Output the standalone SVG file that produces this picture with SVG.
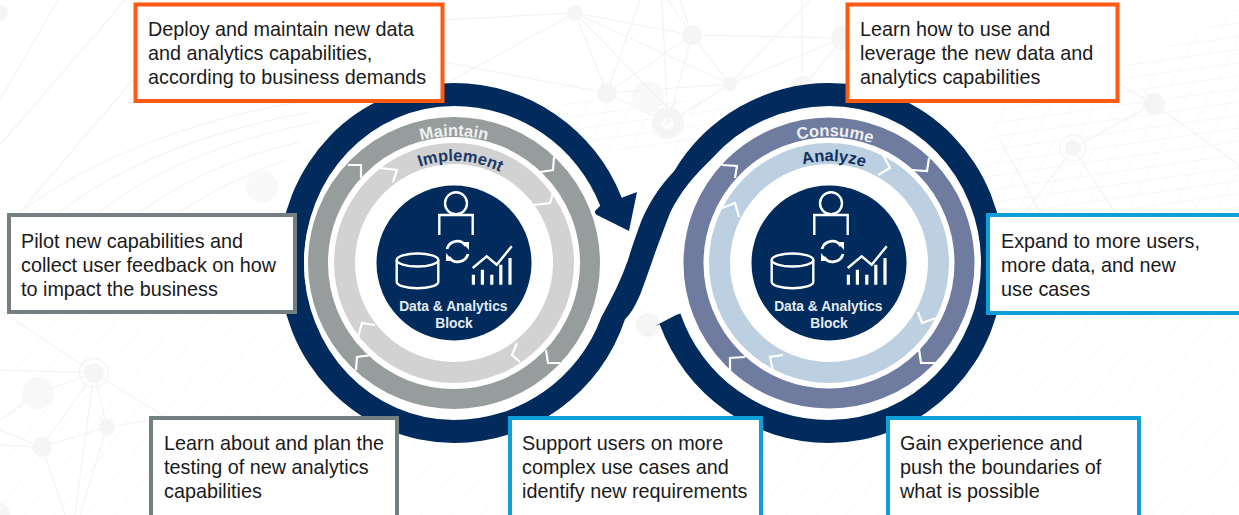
<svg xmlns="http://www.w3.org/2000/svg" xmlns:xlink="http://www.w3.org/1999/xlink" width="1239" height="515" viewBox="0 0 1239 515">
<style>
.box{fill:#fff;stroke-width:4}
.or{stroke:#fe5a12}.gr{stroke:#737f80}.bl{stroke:#0f9fd8}
.t{font-family:"Liberation Sans",Arial,sans-serif;font-size:19.8px;fill:#1a1a1a}
.bg{fill:none;stroke:#f3f3f3;stroke-width:1.2}
.nd{fill:#f5f5f5}
.tick{fill:none;stroke:#fff;stroke-width:2.2}
.ring{fill:none}
.rl{font-family:"Liberation Sans",Arial,sans-serif;font-weight:700;font-size:16.5px}
.ic{fill:none;stroke:#fff;stroke-width:2.4}
.bt{font-family:"Liberation Sans",Arial,sans-serif;font-weight:700;font-size:13.8px;fill:#e3eaf1;text-anchor:middle}
</style>
<defs>
<pattern id="hatch" width="24" height="24" patternUnits="userSpaceOnUse" patternTransform="rotate(38)"><line x1="0" y1="0" x2="0" y2="24" stroke="#f5f5f5" stroke-width="1.2"/></pattern>
<pattern id="mesh" width="24" height="13" patternUnits="userSpaceOnUse" patternTransform="rotate(-8) skewX(-35)"><path d="M0 0H24M0 0V13" fill="none" stroke="#f3f3f3" stroke-width="1.1"/></pattern>
<path id="arcL1" d="M327 263A127 127 0 0 1 581 263"/>
<path id="arcL2" d="M352 263A102 102 0 0 1 556 263"/>
<path id="arcR1" d="M702 263A127 127 0 0 1 956 263"/>
<path id="arcR2" d="M727 263A102 102 0 0 1 931 263"/>
<g id="core">
<circle r="77.5" fill="#002b5c"/>
<circle cx="2" cy="-59.7" r="11" class="ic"/>
<path class="ic" d="M-14.7-28V-48H18.7V-28"/>
<path class="ic" d="M-57.3-3V18.7C-57.3 22.5-48 25.2-36.5 25.2S-15.7 22.5-15.7 18.7V-3"/>
<ellipse cx="-36.5" cy="-3" rx="20.8" ry="6.5" class="ic"/>
<path class="ic" style="stroke-width:2.8" d="M-7-14A10.500 10.500 0 0 1 12-17M14-9A10.500 10.500 0 0 1-5-6"/>
<path d="M8-21H15V-13ZM-1-2H-8V-10Z" fill="#fff"/>
<path d="M17.800 11.700h3.200V21.700h-3.200zM26.800 6.700h3.200V21.700h-3.200zM36.200 11.700h3.200V21.700h-3.200zM45.200 1.700h3.200V21.700h-3.200zM54.400-5h3.200V21.700h-3.200z" fill="#fff"/>
<path class="ic" d="M18.700 5L32.700-6.700L42.700 1.700L57.700-16.700"/>
<text class="bt" x="-0.7" y="48.3">Data &amp; Analytics</text>
<text class="bt" x="0" y="65">Block</text>
</g>
</defs>
<rect width="1239" height="515" fill="#fff"/>
<g id="background">
<rect x="0" y="315" width="520" height="200" fill="url(#hatch)"/>
<rect x="640" y="300" width="599" height="215" fill="url(#hatch)"/>
<path d="M1119 66C1170 48 1210 25 1239 8V212H985V150L1000 102H1119Z" fill="url(#mesh)"/>
<path d="M560 100H860L850 150H590Z" fill="url(#mesh)"/>
<path class="bg" d="M20 212C90 160 190 120 300 102M60 212C120 165 210 130 310 112M100 212C150 172 225 140 318 122M140 212C185 180 240 155 300 142M180 212C210 192 245 175 285 160M0 100L58 0M0 145L125 0M20 212L150 60"/>
<path class="bg" d="M440 20L575 13L692 35L843 38M575 13L607 93L692 35L730 84L843 38M575 13L668 108M575 13L730 84M443 62L607 93L730 84M443 85L575 13M607 93L640 0M692 35L668 0M668 123L662 0M692 35L668 123L730 84L810 0M692 35L680 0M668 123L607 93M730 84L690 110M802 88L802 0M802 88L843 38"/>
<path class="bg" d="M0 370L94 373L42 447L107 427L94 373L38 393L0 420M94 373L0 310M42 447L0 430M42 447L65 515M107 427L80 515M94 373L75 515M94 373L170 420L148 416M107 427L150 420M0 445L42 447M1154 104L1239 165M1154 104L1073 148L1020 220M1073 148L1120 220M1000 140L1040 212M1120 85L1154 104"/>
<circle class="nd" cx="0" cy="13" r="8"/><circle class="nd" cx="262" cy="187" r="16" opacity=".6"/>
<circle class="nd" cx="575" cy="13" r="8"/><circle class="nd" cx="692" cy="35" r="10"/><circle class="nd" cx="843" cy="38" r="12"/>
<circle class="nd" cx="607" cy="93" r="10"/><circle class="nd" cx="730" cy="84" r="7"/><circle class="nd" cx="648" cy="97" r="16" opacity=".6"/>
<circle cx="668" cy="123" r="11" fill="none" stroke="#f5f5f5" stroke-width="10"/>
<circle class="nd" cx="802" cy="88" r="12"/>
<circle class="nd" cx="94" cy="373" r="10"/><circle cx="94" cy="373" r="14.5" fill="none" stroke="#f5f5f5" stroke-width="1.5"/>
<circle class="nd" cx="38" cy="393" r="16" opacity=".7"/><circle class="nd" cx="107" cy="427" r="8"/><circle class="nd" cx="42" cy="447" r="10"/><circle class="nd" cx="0" cy="513" r="10"/>
<circle class="nd" cx="1154" cy="104" r="11"/><circle class="nd" cx="1073" cy="148" r="8"/><circle cx="1073" cy="148" r="13" fill="none" stroke="#f5f5f5" stroke-width="1.5"/>
<circle class="nd" cx="648" cy="325" r="12"/>
</g>
<g id="connectors">
<path id="loop" fill="#002b5c" d="M655 326L659.700 324.300A180 180 0 0 0 829 443A175 180 0 0 0 829 83A180 180 0 0 0 674.400 170.800C660 186 646 206 638 230C634 241 631 250 628 260C621 280 612 298 601.200 317.500A157 157 0 0 1 454 420A150 157 0 0 1 454 106A157 157 0 0 1 600.200 205.700L593 213L629 231L637 192L621.700 197.700A180 180 0 0 0 454 83A175 180 0 0 0 454 443A180 180 0 0 0 625 319.300C634 310 639 298 643 287C647 276 651 265 655 253C660 239 665 226 670 213C680 192 695 175 711.200 159.300A157 157 0 0 1 829 106A152 157 0 0 1 829 420A157 157 0 0 1 680.400 313.500L676 315Z"/>
</g>
<g id="node-left">
<circle cx="454" cy="263" r="150" fill="#fff"/>
<circle class="ring" cx="454" cy="263" r="136" stroke="#979c9d" stroke-width="20"/>
<circle class="ring" cx="454" cy="263" r="109.5" stroke="#d2d2d2" stroke-width="21"/>
<path class="tick" d="M540 172L553 170L554 157M348 165L361 165L361 178M372 355L357 357L356 370M546 350L548 363L560 363M533 205L550 203L553 193M380 168L397 170L393 182M358 337L362 323L375 325M520 362L512 355L517 343"/>
<text class="rl" fill="#eef0f0"><textPath href="#arcL1" xlink:href="#arcL1" startOffset="50%" text-anchor="middle">Maintain</textPath></text>
<text class="rl" fill="#1b3a68"><textPath href="#arcL2" xlink:href="#arcL2" startOffset="52%" text-anchor="middle">Implement</textPath></text>
<use href="#core" xlink:href="#core" x="454" y="263"/>
</g>
<g id="node-right">
<circle cx="829" cy="263" r="150" fill="#fff"/>
<circle class="ring" cx="829" cy="263" r="135.5" stroke="#6f7c9f" stroke-width="20"/>
<circle class="ring" cx="829" cy="263" r="109.5" stroke="#bcd0e1" stroke-width="21"/>
<path class="tick" d="M912 170L927 171L929 158M722 165L737 166L735 178M745 357L730 358L730 370M919 349L921 363L935 363M883 155L890 168L878 175M722 208L735 203L739 217M783 355L770 357L773 371M918 312L922 323L936 318"/>
<text class="rl" fill="#eef0f5"><textPath href="#arcR1" xlink:href="#arcR1" startOffset="51.500%" text-anchor="middle">Consume</textPath></text>
<text class="rl" fill="#12305f"><textPath href="#arcR2" xlink:href="#arcR2" startOffset="51.500%" text-anchor="middle">Analyze</textPath></text>
<use href="#core" xlink:href="#core" x="829" y="263"/>
</g>
<g id="box-deploy">
<rect class="box or" x="135.5" y="4.5" width="307" height="96.5"/>
<text class="t" x="148" y="36">Deploy and maintain new data</text>
<text class="t" x="148" y="60">and analytics capabilities,</text>
<text class="t" x="148" y="84">according to business demands</text>
</g>
<g id="box-learn-use">
<rect class="box or" x="847.5" y="4.5" width="270" height="96.5"/>
<text class="t" x="860" y="36">Learn how to use and</text>
<text class="t" x="860" y="60">leverage the new data and</text>
<text class="t" x="860" y="84">analytics capabilities</text>
</g>
<g id="box-pilot">
<rect class="box gr" x="9" y="215" width="286" height="97"/>
<text class="t" x="21" y="248">Pilot new capabilities and</text>
<text class="t" x="21" y="272">collect user feedback on how</text>
<text class="t" x="21" y="296">to impact the business</text>
</g>
<g id="box-expand">
<rect class="box bl" x="988" y="215" width="260" height="98"/>
<text class="t" x="1001" y="248">Expand to more users,</text>
<text class="t" x="1001" y="272">more data, and new</text>
<text class="t" x="1001" y="296">use cases</text>
</g>
<g id="box-plan">
<rect class="box gr" x="151" y="418" width="246" height="105"/>
<text class="t" x="164" y="450">Learn about and plan the</text>
<text class="t" x="164" y="474">testing of new analytics</text>
<text class="t" x="164" y="498">capabilities</text>
</g>
<g id="box-support">
<rect class="box bl" x="510" y="418" width="251" height="105"/>
<text class="t" x="522" y="450">Support users on more</text>
<text class="t" x="522" y="474">complex use cases and</text>
<text class="t" x="522" y="498">identify new requirements</text>
</g>
<g id="box-gain">
<rect class="box bl" x="888" y="418" width="251" height="105"/>
<text class="t" x="900" y="450">Gain experience and</text>
<text class="t" x="900" y="474">push the boundaries of</text>
<text class="t" x="900" y="498">what is possible</text>
</g>
</svg>
